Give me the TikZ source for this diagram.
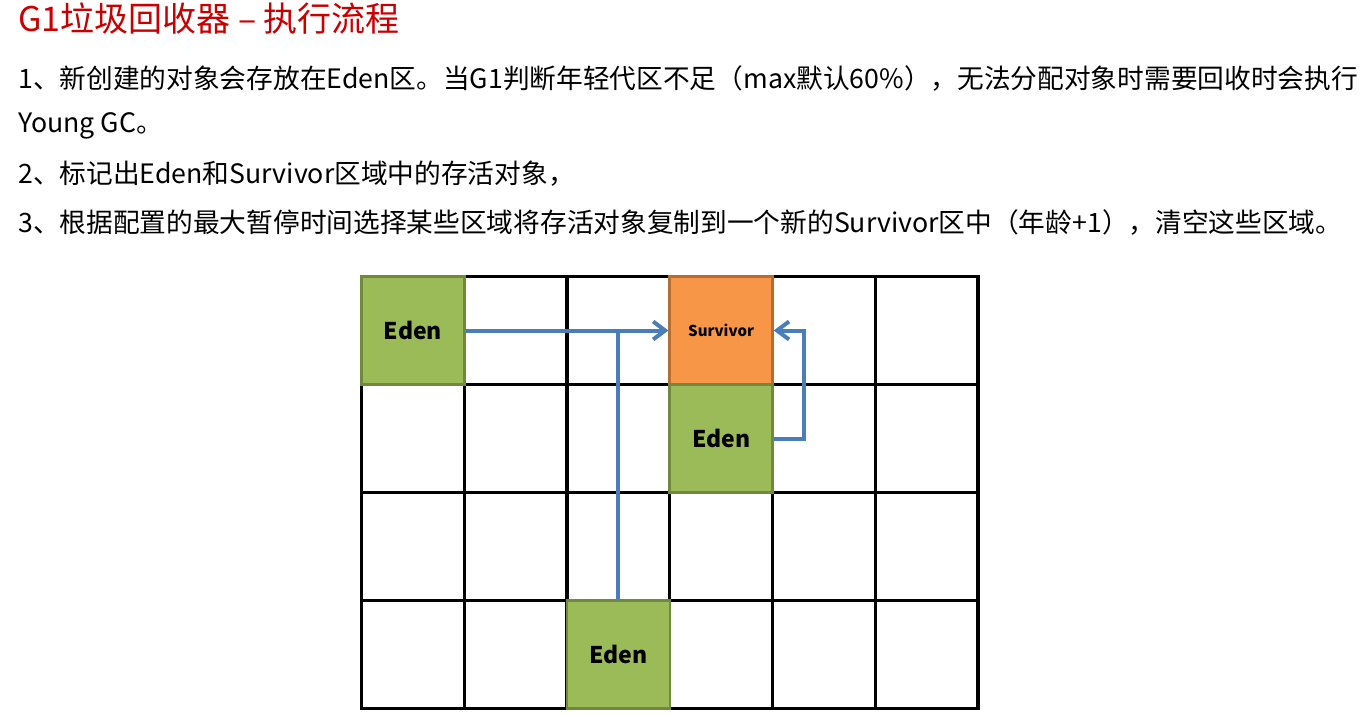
\documentclass[tikz,border=0pt]{standalone}
\usepackage{fontspec}
\setmainfont{Noto Sans CJK SC}
\usetikzlibrary{arrows.meta}
\definecolor{titlered}{RGB}{200,0,0}
\definecolor{edenfill}{RGB}{155,187,89}
\definecolor{edenline}{RGB}{113,137,63}
\definecolor{survfill}{RGB}{247,150,70}
\definecolor{survline}{RGB}{182,109,49}
\definecolor{arrowblue}{RGB}{74,126,187}
\tikzset{
  txt/.style={anchor=west, inner sep=0pt, font=\fontsize{26.7}{27}\selectfont},
  cellbox/.style={minimum width=102.75pt, minimum height=108pt, inner sep=0pt, line width=2.5pt},
  edenbox/.style={cellbox, draw=edenline, fill=edenfill, font=\fontsize{23}{23}\selectfont\bfseries},
  survbox/.style={cellbox, draw=survline, fill=survfill, font=\fontsize{15}{15}\selectfont\bfseries},
  gridline/.style={line width=3.2pt, line cap=rect},
  flow/.style={draw=arrowblue, line width=4pt},
  flowtip/.style={flow, -{Straight Barb[length=12pt,width=18pt]}}
}
\begin{document}
\begin{tikzpicture}[x=1pt,y=-1pt]
\useasboundingbox (0,0) rectangle (1367,716);
% texts
\node[anchor=west, inner sep=0pt, text=titlered, font=\fontsize{34}{34}\selectfont] (title) at (18,19) {G1垃圾回收器 – 执行流程};
\node[txt] (l1) at (18,78) {1、新创建的对象会存放在Eden区。当G1判断年轻代区不足（max默认60\%），无法分配对象时需要回收时会执行};
\node[txt] (l2) at (18,126) {Young GC。};
\node[txt] (l3) at (18,174) {2、标记出Eden和Survivor区域中的存活对象，};
\node[txt] (l4) at (18,222) {3、根据配置的最大暂停时间选择某些区域将存活对象复制到一个新的Survivor区中（年龄+1），清空这些区域。};
% grid
\foreach \i in {0,...,6} {
  \draw[gridline] ({361.5+102.75*\i},276.5) -- ({361.5+102.75*\i},708.5);
}
\foreach \j in {0,...,4} {
  \draw[gridline] (361.5,{276.5+108*\j}) -- (978,{276.5+108*\j});
}
% regions
\node[edenbox] (e1) at (412.9,330.5) {Eden};
\node[survbox] (s) at (721.1,330.5) {Survivor};
\node[edenbox] (e2) at (721.1,438.5) {Eden};
\node[edenbox] (e3) at (618.4,654.5) {Eden};
% arrows
\draw[flowtip] (e1.east) -- (s.west);
\draw[flow] (e3.north) -- (e3.north |- s.west);
\draw[flowtip] (e2.east) -- ++(30,0) |- (s.east);
\end{tikzpicture}
\end{document}
